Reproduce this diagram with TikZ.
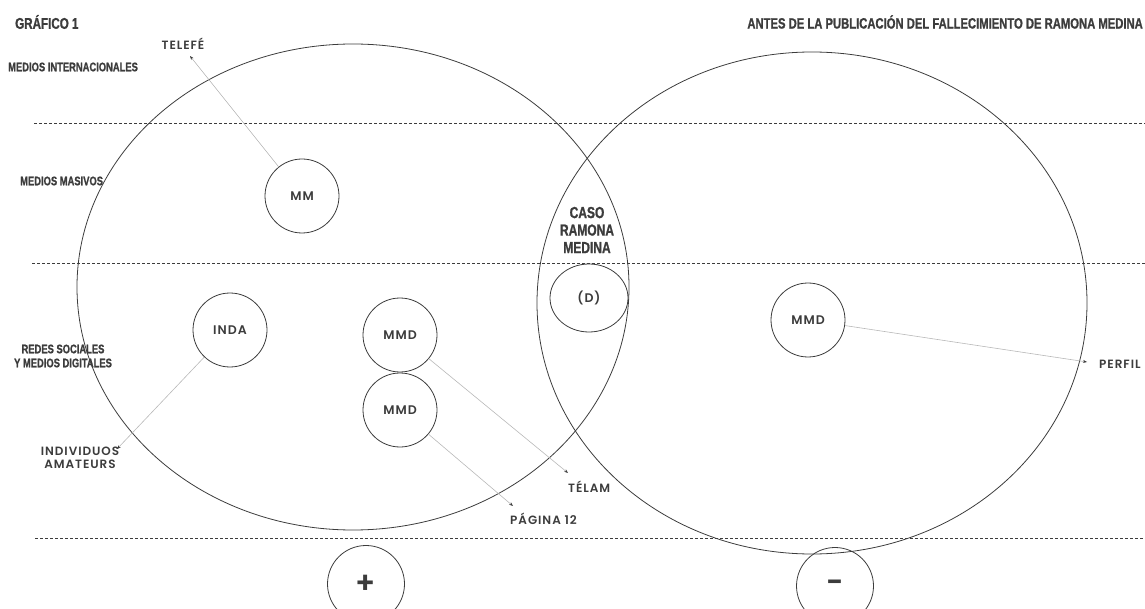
\documentclass[tikz,border=0pt]{standalone}
\usepackage{fontspec}
\setmainfont{Poppins}[BoldFont={Poppins SemiBold}, LetterSpace=8]
\newfontfamily\condfont{Liberation Sans}[UprightFont={* Bold}, FakeStretch=0.75, FakeBold=1]
\usetikzlibrary{arrows.meta,shapes.geometric}
\definecolor{ink}{HTML}{3C3C3C}
\definecolor{pale}{HTML}{B8B8B8}
\tikzset{
  zona/.style={font=\condfont\fontsize{12.5}{14}\selectfont, text=ink, inner sep=0pt},
  medio/.style={circle, draw=ink, line width=0.8pt, minimum size=74pt, inner sep=0pt,
    font=\bfseries\fontsize{12.5}{14}\selectfont, text=ink},
  marca/.style={font=\bfseries\fontsize{12}{13.5}\selectfont, text=ink, inner sep=0pt},
  enlace/.style={draw=pale, line width=0.6pt, -{Stealth[length=4pt,width=3pt,color=ink]}},
  franja/.style={draw=ink, line width=0.7pt, dash pattern=on 3pt off 2pt}
}
\begin{document}
\begin{tikzpicture}[x=1pt,y=-1pt]
\useasboundingbox (0,0) rectangle (1145,609);

% campos
\draw[ink, line width=0.8pt] (353,287) ellipse [x radius=276, y radius=243];
\draw[ink, line width=0.8pt] (812,303) ellipse [x radius=275, y radius=251];

% franjas
\draw[franja] (34,123) -- (1145,123);
\draw[franja] (32,263) -- (1145,263);
\draw[franja] (35,538) -- (1145,538);

% titulos
\node[zona, anchor=west, font=\condfont\fontsize{15.5}{15.5}\selectfont] (graf) at (15,22) {GRÁFICO 1};
\node[zona, anchor=east, font=\condfont\fontsize{15}{15}\selectfont] (antes) at (1143,22) {ANTES DE LA PUBLICACIÓN DEL FALLECIMIENTO DE RAMONA MEDINA};
\node[zona, anchor=west] (inter) at (8,67) {MEDIOS INTERNACIONALES};
\node[zona, anchor=west] (masivos) at (20,181) {MEDIOS MASIVOS};
\node[zona, align=center] (redes) at (63,356) {REDES SOCIALES\\Y MEDIOS DIGITALES};
\node[zona, align=center, font=\condfont\fontsize{16}{17.5}\selectfont] (caso) at (587,230) {CASO\\RAMONA\\MEDINA};

% medios
\node[medio] (mm) at (302,196) {MM};
\node[medio] (inda) at (230,330) {INDA};
\node[medio] (mmd1) at (400,335) {MMD};
\node[medio] (mmd2) at (400,410) {MMD};
\node[medio, ellipse, minimum width=78pt, minimum height=68pt] (d) at (589,298) {(D)};
\node[medio] (mmd3) at (808,320) {MMD};

% signos
\node[medio, minimum size=77pt, font=\bfseries\fontsize{30}{30}\selectfont] (mas) at (366,584) {+};
\node[medio, minimum size=77pt, font=\bfseries\fontsize{30}{30}\selectfont] (menos) at (835,586) {-};

% etiquetas
\node[marca] (telefe) at (183,44) {TELEFÉ};
\node[marca, align=center] (indiv) at (80,458) {INDIVIDUOS\\AMATEURS};
\node[marca, anchor=west] (telam) at (568,487) {TÉLAM};
\node[marca, anchor=west] (pagina) at (510,519) {PÁGINA 12};
\node[marca, anchor=west] (perfil) at (1099,364) {PERFIL};

\coordinate (telefe-p) at (190,56);
\coordinate (indiv-p) at (117,449);
\coordinate (telam-p) at (568,473);
\coordinate (pagina-p) at (513,506);
\coordinate (perfil-p) at (1087,362);

\draw[enlace] (mm) -- (telefe-p);
\draw[enlace] (inda) -- (indiv-p);
\draw[enlace] (mmd1) -- (telam-p);
\draw[enlace] (mmd2) -- (pagina-p);
\draw[enlace] (mmd3) -- (perfil-p);

\end{tikzpicture}
\end{document}
